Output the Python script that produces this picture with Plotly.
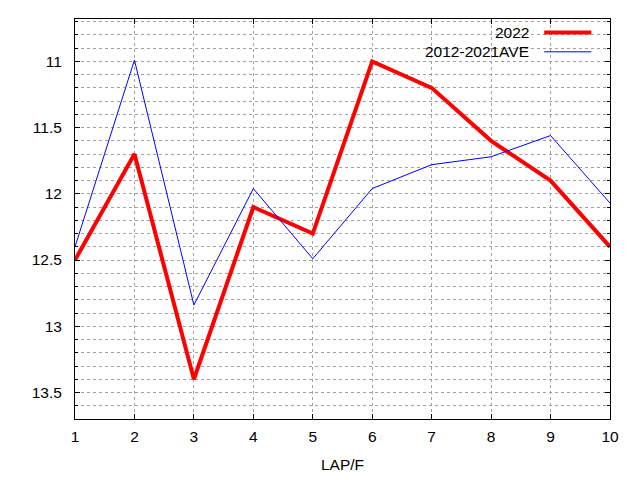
import plotly.graph_objects as go

laps = [1, 2, 3, 4, 5, 6, 7, 8, 9, 10]
y2022 = [12.5, 11.7, 13.4, 12.1, 12.3, 11.0, 11.2, 11.6, 11.9, 12.4]
yave = [12.4, 10.99, 12.84, 11.96, 12.49, 11.96, 11.78, 11.72, 11.56, 12.07]
names = ["2022", "2012-2021AVE"]
colors = ["#ff0000", "#0000ff"]
widths = [4, 1]

FONT = "Liberation Sans, Arial, sans-serif"
FS = 15.5

fig = go.Figure()
for ys, nm, c, w in zip([y2022, yave], names, colors, widths):
    fig.add_trace(go.Scatter(x=laps, y=ys, mode="lines", name=nm,
                             line=dict(color=c, width=w), showlegend=False,
                             cliponaxis=True, hoverinfo="skip"))

# custom gnuplot-style legend (text left, sample right)
legend_y = [0.966, 0.918]
shapes = [dict(type="rect", xref="paper", yref="paper", x0=0.632, x1=0.977,
               y0=0.9, y1=0.99, fillcolor="white", line=dict(width=0),
               layer="between")]
annotations = []
for nm, c, w, yy in zip(names, colors, widths, legend_y):
    annotations.append(dict(xref="paper", yref="paper", x=0.853, y=yy,
                            text=nm, showarrow=False, xanchor="right",
                            yanchor="middle",
                            font=dict(family=FONT, size=FS, color="black")))
    shapes.append(dict(type="line", xref="paper", yref="paper", x0=0.877,
                       x1=0.965, y0=yy, y1=yy, line=dict(color=c, width=w),
                       layer="above"))

grid = dict(showgrid=True, gridcolor="#a0a0a0", gridwidth=1, griddash="dot")

fig.update_layout(
    width=640, height=480,
    margin=dict(l=75, r=30, t=19, b=61, autoexpand=False),
    paper_bgcolor="white", plot_bgcolor="white",
    font=dict(family=FONT, size=FS, color="black"),
    shapes=shapes, annotations=annotations,
    xaxis=dict(range=[1, 10], tick0=1, dtick=1, ticks="inside", ticklen=5,
               tickcolor="black", showline=True, linecolor="black",
               linewidth=1, mirror="ticks", zeroline=False, automargin=False,
               ticklabelstandoff=3,
               tickfont=dict(family=FONT, size=FS, color="black"),
               title=dict(text="LAP/F", standoff=15,
                          font=dict(family=FONT, size=FS, color="black")),
               **grid),
    yaxis=dict(range=[13.7, 10.68], tick0=11, dtick=0.5, ticks="inside",
               ticklen=5, tickcolor="black", showline=True,
               linecolor="black", linewidth=1, mirror="ticks",
               zeroline=False, ticklabelstandoff=9, automargin=False,
               tickfont=dict(family=FONT, size=FS, color="black"),
               minor=dict(dtick=0.1, tick0=11, ticks="inside", ticklen=3,
                          tickcolor="black", showgrid=True,
                          gridcolor="#a0a0a0", griddash="dot"),
               **grid),
)

fig.write_html("out.html", config={"displayModeBar": False},
               post_script="document.body.style.margin='0';")
